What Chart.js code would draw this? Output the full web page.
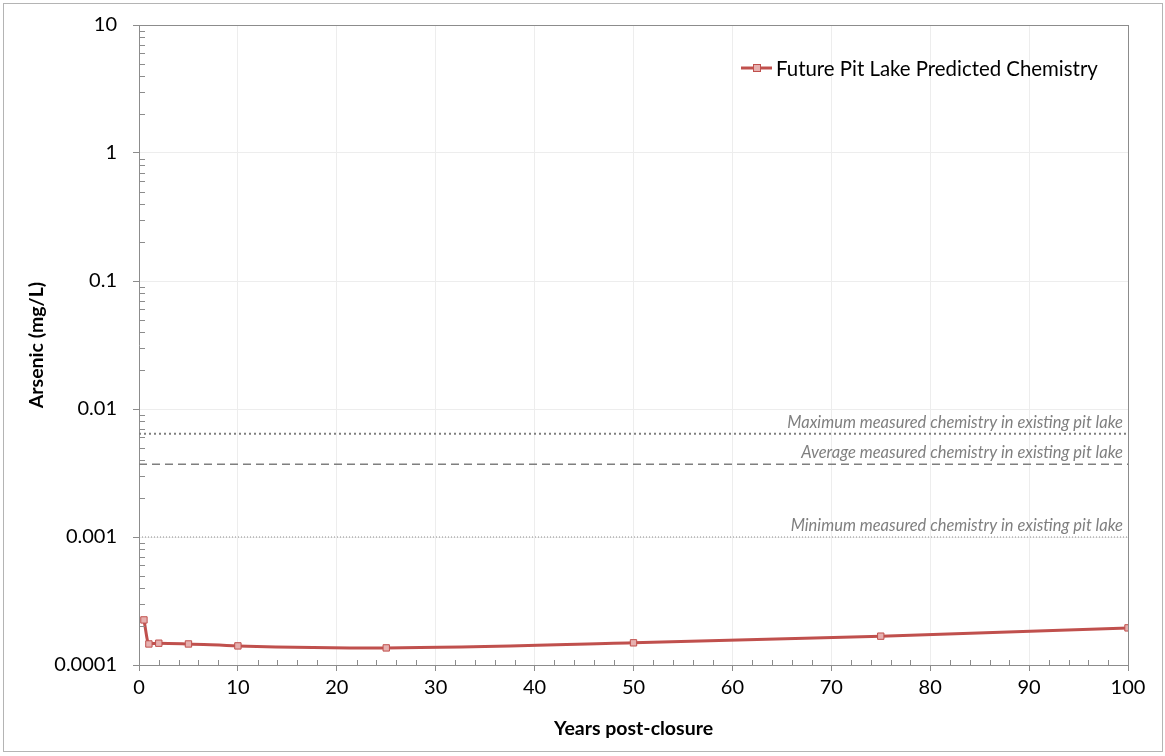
<!DOCTYPE html>
<html>
<head>
<meta charset="utf-8">
<script src="https://cdn.jsdelivr.net/npm/chart.js@4.4.1/dist/chart.umd.min.js"></script>
<style>
  html, body { margin: 0; padding: 0; background: #fff; }
  #wrap { width: 1165px; height: 756px; }
</style>
</head>
<body>
<div id="wrap"><canvas id="chart1" width="1165" height="756"></canvas></div>
<script>
// data
const years = [0.5, 1, 2, 5, 10, 25, 50, 75, 100];
const arsenic = [0.000225, 0.000146, 0.000148, 0.000146, 0.000141, 0.000136, 0.000149, 0.000168, 0.000195];
const refX = [0, 100];
const refMax = 0.0064;
const refAvg = 0.0037;
const refMin = 0.001;
const refLabels = ['Maximum measured chemistry in existing pit lake',
                   'Average measured chemistry in existing pit lake',
                   'Minimum measured chemistry in existing pit lake'];
const seriesName = 'Future Pit Lake Predicted Chemistry';

const fontName = 'Lato, "Open Sans", sans-serif';
const axisGray = '#8c8c8c';

function isDecade(v) {
    const l = Math.log10(v);
    return Math.abs(l - Math.round(l)) < 1e-9;
}

function flatLine(val) {
    return refX.map(x => ({x: x, y: val}));
}

// frame, minor ticks, reference labels and legend
const extras = {
    id: 'extras',
    beforeDraw(c) {
        const ctx = c.ctx;
        ctx.save();
        ctx.fillStyle = '#fff';
        ctx.fillRect(0, 0, c.width, c.height);
        ctx.strokeStyle = '#b4b4b4';
        ctx.lineWidth = 1;
        ctx.strokeRect(3.5, 3.5, 1159, 748);
        ctx.restore();
    },
    afterDraw(c) {
        const ctx = c.ctx;
        const xs = c.scales.x, ys = c.scales.y;
        const a = c.chartArea;
        ctx.save();
        ctx.strokeStyle = axisGray;
        ctx.lineWidth = 1;
        // minor ticks on x (every 2)
        for (let v = 2; v < 100; v += 2) {
            if (v % 10 === 0) continue;
            const px = Math.round(xs.getPixelForValue(v)) + 0.5;
            ctx.beginPath();
            ctx.moveTo(px, a.bottom);
            ctx.lineTo(px, a.bottom - 5);
            ctx.stroke();
        }
        // minor ticks on y (2..9 in each decade)
        for (let d = -4; d < 1; d++) {
            for (let m = 2; m <= 9; m++) {
                const py = Math.round(ys.getPixelForValue(m * Math.pow(10, d))) + 0.5;
                ctx.beginPath();
                ctx.moveTo(a.left, py);
                ctx.lineTo(a.left + 6, py);
                ctx.stroke();
            }
        }
        // reference line labels
        ctx.fillStyle = '#7f7f7f';
        ctx.font = 'italic 16.5px ' + fontName;
        ctx.textAlign = 'right';
        ctx.textBaseline = 'bottom';
        const rx = a.right - 5;
        ctx.fillText(refLabels[0], rx, ys.getPixelForValue(refMax) - 3);
        ctx.fillText(refLabels[1], rx, ys.getPixelForValue(refAvg) - 3);
        ctx.fillText(refLabels[2], rx, ys.getPixelForValue(refMin) - 3);
        // legend
        const ly = 68;
        ctx.strokeStyle = '#C0504D';
        ctx.lineWidth = 3;
        ctx.beginPath();
        ctx.moveTo(741, ly);
        ctx.lineTo(772, ly);
        ctx.stroke();
        ctx.fillStyle = '#E6B0AF';
        ctx.lineWidth = 1;
        ctx.fillRect(753, ly - 4, 8, 8);
        ctx.strokeRect(753.5, ly - 3.5, 7, 7);
        ctx.fillStyle = '#000';
        ctx.font = '20.4px ' + fontName;
        ctx.textAlign = 'left';
        ctx.textBaseline = 'middle';
        ctx.fillText(seriesName, 776, ly + 1);
        ctx.restore();
    }
};

const ctx = document.getElementById('chart1').getContext('2d');
const chart = new Chart(ctx, {
    type: 'line',
    data: {
        datasets: [{
            label: seriesName,
            data: years.map((x, i) => ({x: x, y: arsenic[i]})),
            borderColor: '#C0504D',
            backgroundColor: '#E6B0AF',
            borderWidth: 3,
            pointStyle: 'rect',
            pointRadius: 4.5,
            pointBorderWidth: 1,
            pointBorderColor: '#C0504D',
            pointBackgroundColor: '#E6B0AF',
            cubicInterpolationMode: 'monotone',
            order: 0
        }, {
            label: refLabels[0],
            data: flatLine(refMax),
            borderColor: '#7f7f7f',
            borderWidth: 2,
            borderDash: [2, 3],
            pointRadius: 0,
            order: 1
        }, {
            label: refLabels[1],
            data: flatLine(refAvg),
            borderColor: '#7f7f7f',
            borderWidth: 1.5,
            borderDash: [8, 5],
            pointRadius: 0,
            order: 1
        }, {
            label: refLabels[2],
            data: flatLine(refMin),
            borderColor: '#8c8c8c',
            borderWidth: 1,
            borderDash: [1, 2],
            pointRadius: 0,
            order: 1
        }]
    },
    options: {
        responsive: false,
        animation: false,
        layout: { padding: { left: 0, top: 25, right: 37, bottom: 0 } },
        plugins: {
            legend: { display: false },
            tooltip: { enabled: false }
        },
        scales: {
            x: {
                type: 'linear',
                min: 0,
                max: 100,
                afterFit: s => { s.height = 91; s.paddingLeft = 0; s.paddingRight = 0; },
                border: { color: axisGray, width: 1 },
                grid: {
                    color: c => c.tick && c.tick.value === 100 ? axisGray : '#ededed',
                    tickColor: axisGray,
                    tickLength: 6
                },
                ticks: {
                    stepSize: 10,
                    color: '#000',
                    padding: 5,
                    font: { family: fontName, size: 20 }
                },
                title: {
                    display: true,
                    text: 'Years post-closure',
                    color: '#000',
                    padding: { top: 4, bottom: 16 },
                    font: { family: fontName, size: 19.5, weight: 'bold' }
                }
            },
            y: {
                type: 'logarithmic',
                min: 0.0001,
                max: 10,
                afterFit: s => { s.width = 139; s.paddingTop = 0; s.paddingBottom = 0; },
                border: { color: axisGray, width: 1 },
                grid: {
                    color: c => {
                        if (!c.tick || !isDecade(c.tick.value)) return 'rgba(0,0,0,0)';
                        return c.tick.value === 10 ? axisGray : '#ededed';
                    },
                    tickColor: c => c.tick && isDecade(c.tick.value) ? axisGray : 'rgba(0,0,0,0)',
                    tickLength: 6
                },
                ticks: {
                    color: '#000',
                    padding: 16,
                    autoSkip: false,
                    font: { family: fontName, size: 20 },
                    callback: v => isDecade(v) ? String(parseFloat(v.toPrecision(1))) : ''
                },
                title: {
                    display: true,
                    text: 'Arsenic (mg/L)',
                    color: '#000',
                    padding: { top: 25, bottom: 0 },
                    font: { family: fontName, size: 19.5, weight: 'bold' }
                }
            }
        }
    },
    plugins: [extras]
});
</script>
</body>
</html>
